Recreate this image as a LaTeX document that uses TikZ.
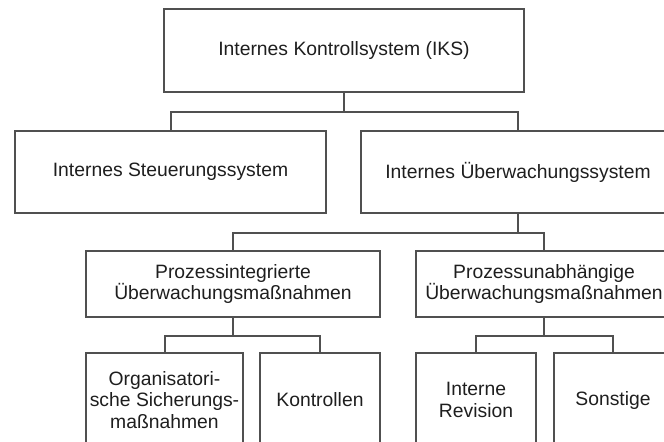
\documentclass[tikz,border=0pt]{standalone}
\usepackage{fontspec}
\setmainfont{Liberation Sans}
\definecolor{linegray}{RGB}{80, 80, 80}
\definecolor{textgray}{RGB}{30, 30, 30}
\usepackage{tikz}
\usetikzlibrary{positioning, calc}
\tikzset{
    orgbox/.style={draw=linegray, line width=0.02cm, rectangle, inner sep=0pt, align=center, text=textgray, font=\fontsize{5.5}{6.2}\selectfont},
    toplevel/.style={orgbox, minimum height=0.83cm},
    midlevel/.style={orgbox, minimum height=0.82cm},
    sublevel/.style={orgbox, minimum height=0.66cm},
    leaflevel/.style={orgbox, minimum height=0.94cm},
    branch/.style={draw=linegray, line width=0.02cm},
}

\begin{document}
\begin{tikzpicture}
    \useasboundingbox (0, 0) rectangle (6.64, 4.41);
    \clip (0, 0) rectangle (6.64, 4.41);

    % === IKS ===
    \node[toplevel, minimum width=3.6cm] (iks) at (3.44, 3.905) {Internes Kontrollsystem (IKS)};

    % === second level ===
    \node[midlevel, minimum width=3.11cm] (steuer) at (1.705, 2.69) {Internes Steuerungssystem};
    \node[midlevel, minimum width=3.14cm] (ueber) at (5.18, 2.69) {Internes Überwachungssystem};

    \draw[branch] (iks.south) -- ++(0, -0.19) -| (steuer.north);
    \draw[branch] (iks.south) -- ++(0, -0.19) -| (ueber.north);

    % === Überwachung ===
    \node[sublevel, minimum width=2.94cm] (pint) at (2.33, 1.57) {Prozessintegrierte\\Überwachungsmaßnahmen};
    \node[sublevel, minimum width=2.56cm] (punab) at (5.44, 1.57) {Prozessunabhängige\\Überwachungsmaßnahmen};

    \draw[branch] (ueber.south) -- ++(0, -0.19) -| (pint.north);
    \draw[branch] (ueber.south) -- ++(0, -0.19) -| (punab.north);

    % === leaves ===
    \node[leaflevel, minimum width=1.57cm] (orga) at (1.645, 0.41) {Organisatori-\\sche Sicherungs-\\maßnahmen};
    \node[leaflevel, minimum width=1.2cm] (kontr) at (3.2, 0.41) {Kontrollen};
    \node[leaflevel, minimum width=1.2cm] (revis) at (4.76, 0.41) {Interne\\Revision};
    \node[leaflevel, minimum width=1.18cm] (sonst) at (6.13, 0.41) {Sonstige};

    \draw[branch] (pint.south) -- ++(0, -0.18) -| (orga.north);
    \draw[branch] (pint.south) -- ++(0, -0.18) -| (kontr.north);
    \draw[branch] (punab.south) -- ++(0, -0.18) -| (revis.north);
    \draw[branch] (punab.south) -- ++(0, -0.18) -| (sonst.north);
\end{tikzpicture}
\end{document}
